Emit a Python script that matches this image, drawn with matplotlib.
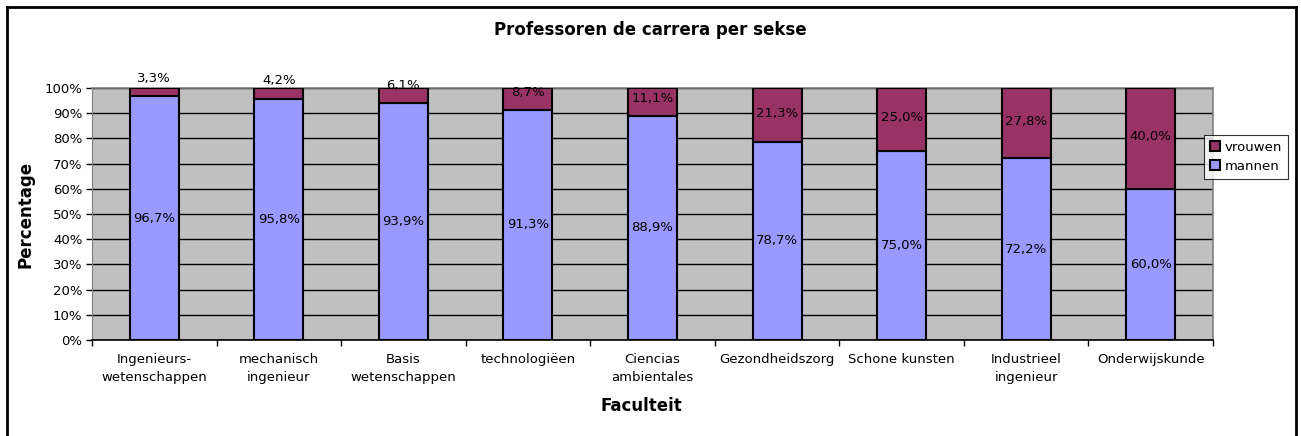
import matplotlib
matplotlib.use("Agg")
import matplotlib.pyplot as plt
from matplotlib.lines import Line2D
import numpy as np

categories = ["Ingenieurs-\nwetenschappen", "mechanisch\ningenieur", "Basis\nwetenschappen",
              "technologiëen", "Ciencias\nambientales", "Gezondheidszorg", "Schone kunsten",
              "Industrieel\ningenieur", "Onderwijskunde"]
mannen = [96.7, 95.8, 93.9, 91.3, 88.9, 78.7, 75.0, 72.2, 60.0]
vrouwen = [3.3, 4.2, 6.1, 8.7, 11.1, 21.3, 25.0, 27.8, 40.0]

plt.rcParams['font.family'] = ['DejaVu Sans']

W, H = 1301, 436
fig = plt.figure(figsize=(W / 100, H / 100), dpi=100)
ax = fig.add_axes([92 / W, 1 - 340 / H, (1213 - 92) / W, (340 - 88) / H])

c_m = "#9999FF"
c_v = "#993366"
ax.set_facecolor("#C0C0C0")
x = np.arange(len(categories))
bw = 0.393
ax.bar(x, mannen, bw, color=c_m, edgecolor="black", linewidth=1.5, label="mannen", zorder=3)
ax.bar(x, vrouwen, bw, bottom=mannen, color=c_v, edgecolor="black", linewidth=1.5, label="vrouwen", zorder=3)

def fmt(v):
    return f"{v:.1f}%".replace(".", ",")

fs = 9.5
for xi, m, v in zip(x, mannen, vrouwen):
    ax.text(xi, m / 2, fmt(m), ha="center", va="center", fontsize=fs, zorder=5)
    yv = max(m + v / 2 + 0.7, m + 7.0)
    ax.text(xi, yv, fmt(v), ha="center", va="center", fontsize=fs, zorder=5, clip_on=False)

ax.set_xlim(-0.5, len(categories) - 0.5)
ax.set_ylim(0, 100)
ax.set_yticks(np.arange(0, 101, 10))
ax.set_yticklabels([f"{t}%" for t in range(0, 101, 10)], fontsize=fs)
ax.yaxis.grid(True, color="black", linewidth=1.0, zorder=1)
ax.set_axisbelow(True)

ax.set_xticks(x)
ax.set_xticklabels(categories, fontsize=fs, linespacing=1.5)
ax.tick_params(axis="x", which="major", length=0, pad=9)
ax.set_xticks(np.arange(-0.5, len(categories), 1.0), minor=True)
ax.tick_params(axis="x", which="minor", length=4, width=1, direction="out")
ax.tick_params(axis="y", length=4, width=1, direction="out", pad=3)

for s in ["top", "right"]:
    ax.spines[s].set_color("#808080")
    ax.spines[s].set_linewidth(1.2)
ax.spines["left"].set_color("#808080")
ax.spines["bottom"].set_color("black")
ax.spines["bottom"].set_linewidth(1.2)

ax.set_ylabel("Percentage", fontsize=12, fontweight="bold")
ax.yaxis.set_label_coords(-0.051, 0.5)
ax.set_xlabel("Faculteit", fontsize=12, fontweight="bold")
ax.xaxis.set_label_coords(0.49, -0.225)

fig.text(650 / W, 1 - 30 / H, "Professoren de carrera per sekse", ha="center", va="center",
         fontsize=12, fontweight="bold")

handles, labels = ax.get_legend_handles_labels()
leg = fig.legend(handles[::-1], labels[::-1], loc="upper left",
                 bbox_to_anchor=(1204 / W, 1 - 135 / H), fontsize=fs, frameon=True,
                 fancybox=False, edgecolor="black", handlelength=0.8, handleheight=0.8,
                 handletextpad=0.3, borderpad=0.45, labelspacing=0.45, borderaxespad=0)
leg.get_frame().set_linewidth(0.8)

# outer chart frame
lw = 2
fig.add_artist(Line2D([7 / W, 7 / W], [0, 1 - 7 / H], transform=fig.transFigure, color="black", lw=lw))
fig.add_artist(Line2D([1296 / W, 1296 / W], [0, 1 - 7 / H], transform=fig.transFigure, color="black", lw=lw))
fig.add_artist(Line2D([7 / W, 1296 / W], [1 - 7 / H, 1 - 7 / H], transform=fig.transFigure, color="black", lw=lw))

fig.savefig("out.png", dpi=100)
